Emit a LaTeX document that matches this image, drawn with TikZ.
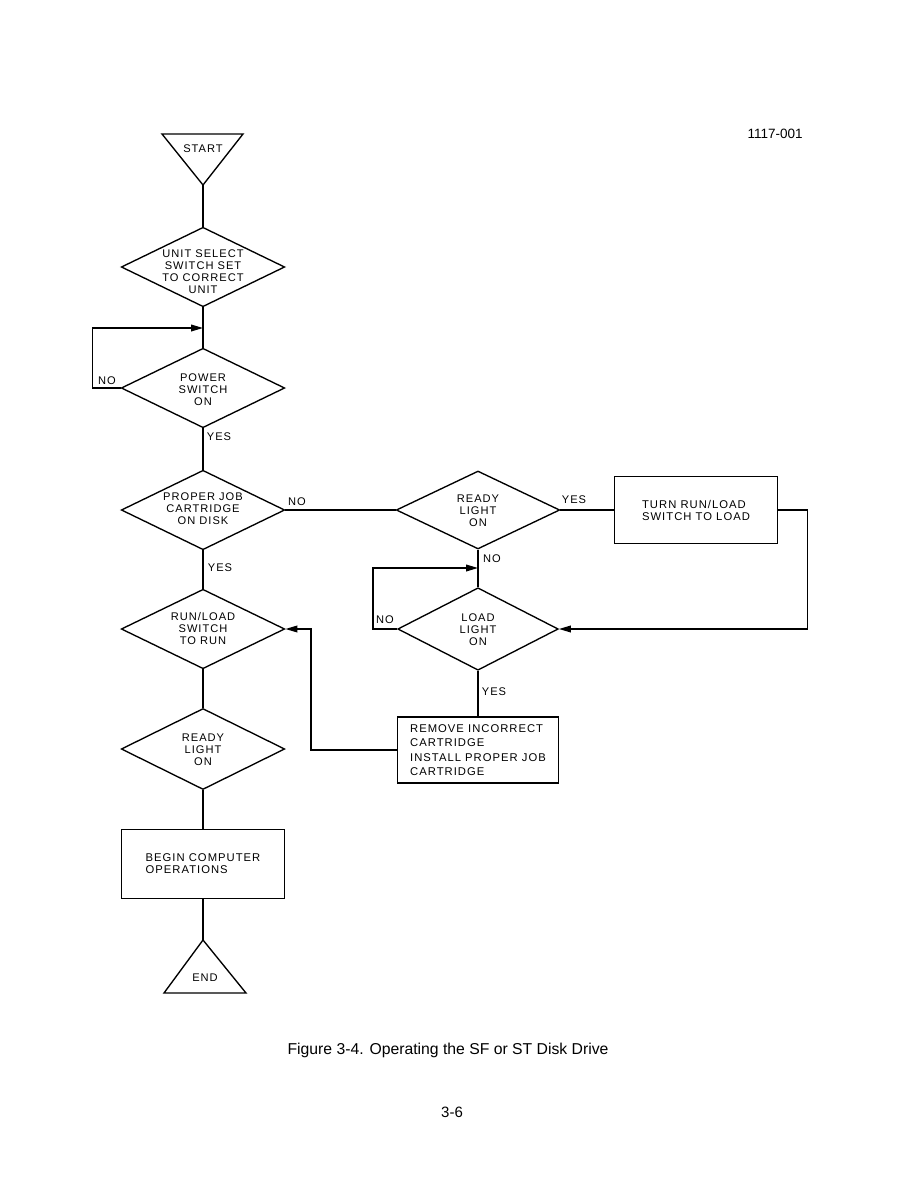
\documentclass[tikz,border=0pt]{standalone}
\usepackage{fontspec}
\setmainfont{Liberation Sans}
\newfontfamily\chartfont[LetterSpace=9]{Liberation Sans}
\usetikzlibrary{arrows.meta, shapes.geometric, calc}

\begin{document}
\begin{tikzpicture}[
        x=0.6667pt, y=-0.6667pt,
        line/.style={line width=0.9pt},
        arr/.style={line width=0.9pt, -{Triangle[length=8pt, width=4.5pt]}},
        dec/.style={diamond, draw, line width=0.9pt, minimum width=109pt,
                    minimum height=53pt, inner sep=0pt},
        dectxt/.style={font=\chartfont\fontsize{7.4}{8}\selectfont, align=center, inner sep=0pt},
        box/.style={draw, line width=0.9pt, minimum width=109pt, minimum height=45pt,
                    align=left},
        lab/.style={font=\chartfont\fontsize{7.4}{8}\selectfont, inner sep=0pt},
    ]
        \useasboundingbox (0,0) rectangle (918,1188);

        % Start
        \node[dectxt] (start) at (203,149) {START};
        \coordinate (startapex) at (203,185);
        \draw[line] (162,134) -- (243,134) -- (startapex) -- cycle;

        % Left column
        \node[dec] (unit) at (203,267) {};
        \node[dectxt] (unittxt) at (203,272) {UNIT SELECT\\SWITCH SET\\TO CORRECT\\UNIT};
        \node[dec] (power) at (203,388) {};
        \node[dectxt] (powertxt) at (203,390) {POWER\\SWITCH\\ON};
        \node[dec] (proper) at (203,510) {};
        \node[dectxt] (propertxt) at (203,509) {PROPER JOB\\CARTRIDGE\\ON DISK};
        \node[dec] (run) at (203,629) {};
        \node[dectxt] (runtxt) at (203,629) {RUN/LOAD\\SWITCH\\TO RUN};
        \node[dec, minimum height=54pt] (ready) at (203,749) {};
        \node[dectxt] (readytxt) at (203,749.5) {READY\\LIGHT\\ON};
        \node[box, minimum height=46pt, font=\chartfont\fontsize{7.5}{8}\selectfont] (begin) at (203,864)
            {BEGIN COMPUTER\\OPERATIONS};

        % End
        \node[dectxt] (end) at (205,978) {END};
        \coordinate (endapex) at (203,940);
        \draw[line] (endapex) -- (246,993) -- (164,993) -- cycle;

        % Right column
        \node[dec, minimum height=52pt] (readyb) at (478,510) {};
        \node[dectxt] (readybtxt) at (478,510.5) {READY\\LIGHT\\ON};
        \node[box, font=\chartfont\fontsize{7.5}{8}\selectfont] (turn) at (696,510)
            {TURN RUN/LOAD\\SWITCH TO LOAD};
        \node[dec, minimum width=107pt, minimum height=55pt] (load) at (478,629) {};
        \node[dectxt] (loadtxt) at (478,630) {LOAD\\LIGHT\\ON};
        \node[box, minimum width=107pt, minimum height=44pt, font=\chartfont\fontsize{7.5}{9.6}\selectfont]
            (remove) at (478,750) {REMOVE INCORRECT\\CARTRIDGE\\INSTALL PROPER JOB\\CARTRIDGE};

        % Connectors
        \coordinate (powerin) at (203,328);
        \coordinate (loadin) at (478,568);
        \draw[line] (startapex) -- (unit.north);
        \draw[line] (unit.south) -- (power.north);
        \draw[arr] (power.west) -- ++(-28,0) |- (powerin);
        \draw[line] (power.south) -- (proper.north);
        \draw[line] (proper.south) -- (run.north);
        \draw[line] (run.south) -- (ready.north);
        \draw[line] (ready.south) -- (begin.north);
        \draw[line] (begin.south) -- (endapex);
        \draw[line] (proper.east) -- (readyb.west);
        \draw[line] (readyb.east) -- (turn.west);
        \draw[arr] (turn.east) -- ++(29,0) |- (load.east);
        \draw[line] (readyb.south) -- (load.north);
        \draw[arr] (load.west) -- ++(-24,0) |- (loadin);
        \draw[line] (load.south) -- (remove.north);
        \draw[arr] (remove.west) -- ++(-86,0) |- (run.east);

        % Labels
        \node[lab] (nopower) at (107,381) {NO};
        \node[lab] (yespower) at (219,437) {YES};
        \node[lab] (noproper) at (297,502) {NO};
        \node[lab] (yesproper) at (220,568) {YES};
        \node[lab] (yesready) at (574,500) {YES};
        \node[lab] (noready) at (492,559) {NO};
        \node[lab] (noload) at (385,620) {NO};
        \node[lab] (yesload) at (494,692) {YES};

        % Page texts
        \node[font=\fontsize{9}{10}\selectfont, anchor=east, inner sep=0pt] (figno) at (803,134) {1117-001};
        \node[font=\fontsize{10.5}{12}\selectfont, inner sep=0pt] (caption) at (448,1050)
            {Figure 3-4. Operating the SF or ST Disk Drive};
        \node[font=\fontsize{10}{12}\selectfont, inner sep=0pt] (page) at (452,1112) {3-6};
    \end{tikzpicture}
\end{document}
